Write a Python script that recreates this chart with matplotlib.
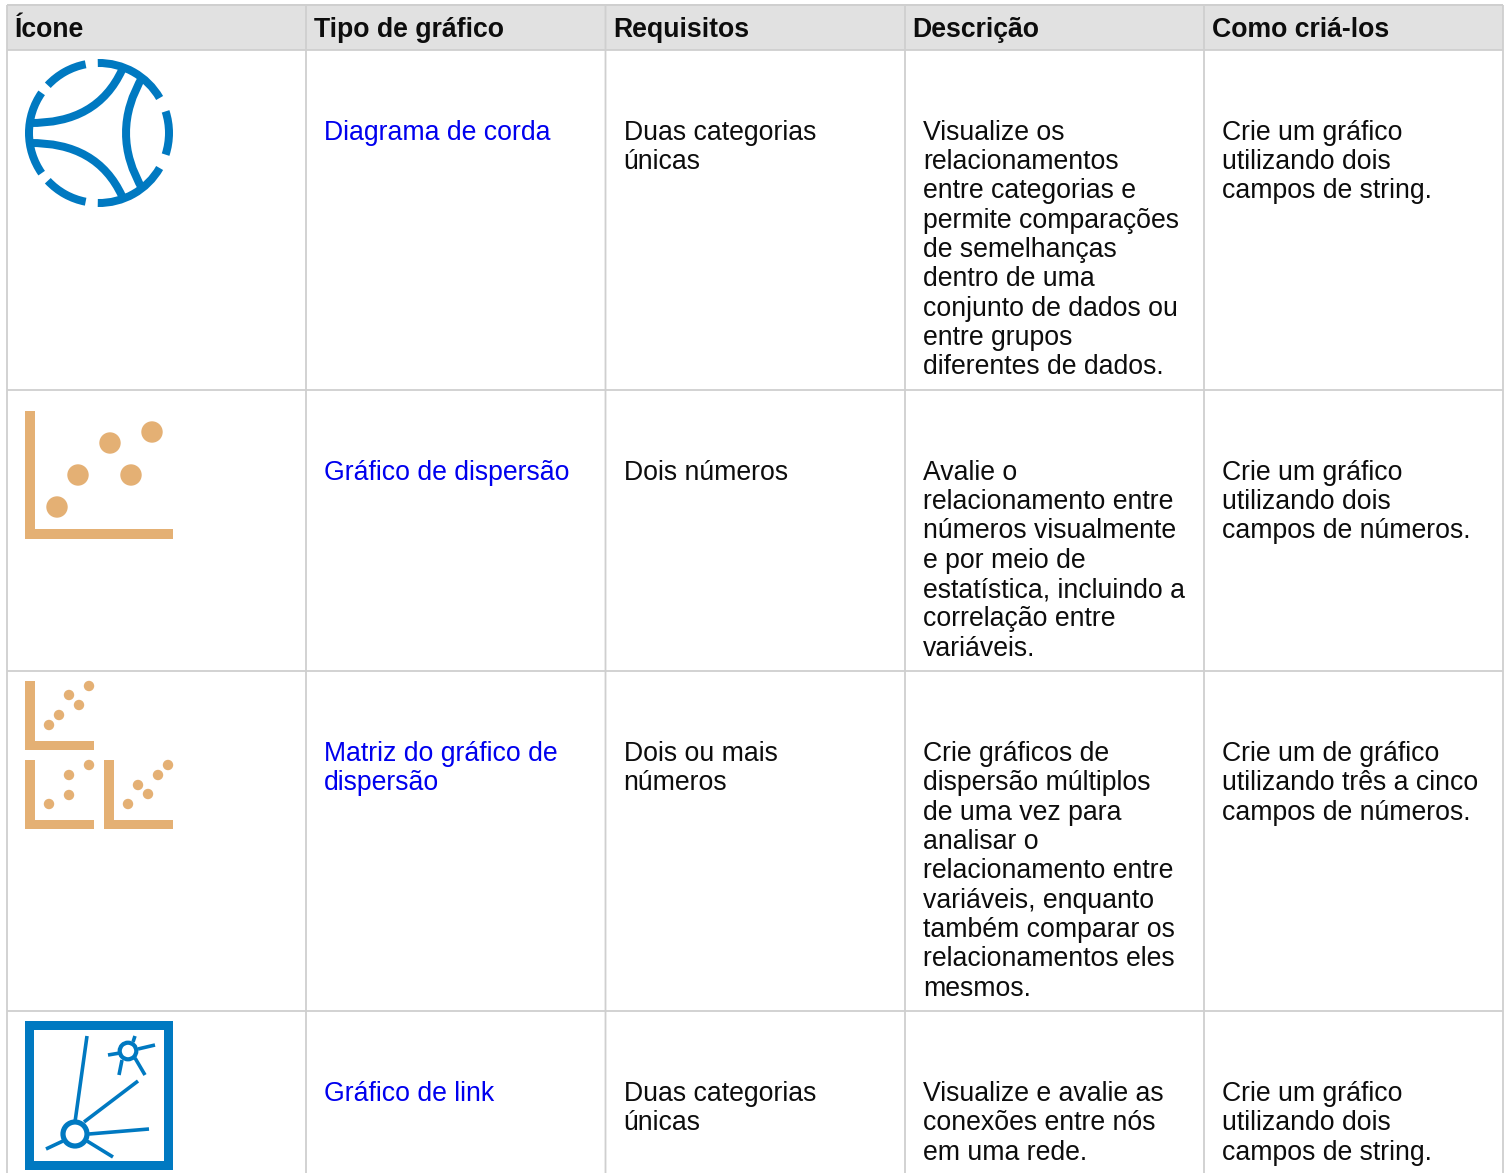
import matplotlib
matplotlib.use("Agg")
import matplotlib.pyplot as plt
from matplotlib.patches import Circle, PathPatch, Rectangle, Wedge
from matplotlib.path import Path

plt.rcParams['font.family'] = ['Liberation Sans', 'DejaVu Sans']

# table content
headers = ["Ícone", "Tipo de gráfico", "Requisitos", "Descrição", "Como criá-los"]
chart_types = [
    ["Diagrama de corda"],
    ["Gráfico de dispersão"],
    ["Matriz do gráfico de", "dispersão"],
    ["Gráfico de link"],
]
requirements = [
    ["Duas categorias", "únicas"],
    ["Dois números"],
    ["Dois ou mais", "números"],
    ["Duas categorias", "únicas"],
]
descriptions = [
    ["Visualize os", "relacionamentos", "entre categorias e", "permite comparações",
     "de semelhanças", "dentro de uma", "conjunto de dados ou", "entre grupos",
     "diferentes de dados."],
    ["Avalie o", "relacionamento entre", "números visualmente", "e por meio de",
     "estatística, incluindo a", "correlação entre", "variáveis."],
    ["Crie gráficos de", "dispersão múltiplos", "de uma vez para", "analisar o",
     "relacionamento entre", "variáveis, enquanto", "também comparar os",
     "relacionamentos eles", "mesmos."],
    ["Visualize e avalie as", "conexões entre nós", "em uma rede."],
]
how_to = [
    ["Crie um gráfico", "utilizando dois", "campos de string."],
    ["Crie um gráfico", "utilizando dois", "campos de números."],
    ["Crie um de gráfico", "utilizando três a cinco", "campos de números."],
    ["Crie um gráfico", "utilizando dois", "campos de string."],
]

# table grid, in pixels
col_edges = [7, 306, 605.5, 905, 1204, 1503]
header_x = [14.5, 313.5, 613, 912.5, 1211.5]
row_edges = [50, 390, 671, 1011]
first_baselines = [139.7, 479.7, 761.0, 1101]

# icon data
chord_arcs = [(-91, -30), (-18, 18), (30, 91), (101, 137), (145, 215), (223, 259)]
scatter_dots_x = [57, 78, 110, 131, 152]
scatter_dots_y = [507, 475, 443, 475, 432]
matrix_dots_x = [49, 59, 69, 79, 89, 49, 69, 69, 89, 128, 148, 138, 158, 168]
matrix_dots_y = [725, 715, 695, 705, 686, 804, 795, 775, 765, 804, 794, 785, 775, 765]

BLUE = "#0079c1"
TAN = "#e4b074"
LINK = "#0000ee"
GRID = "#cfcfcf"
TEXT = "#0d0d0d"
LINE_H = 29.33
FONT = 19.2


def px(n):
    # pixels to points
    return n * 72 / 100


def draw_l(ax, x0, y0, x1, y1, t):
    ax.add_patch(Rectangle((x0, y0), t, y1 - y0, fc=TAN, ec="none"))
    ax.add_patch(Rectangle((x0, y1 - t), x1 - x0, t, fc=TAN, ec="none"))


def draw_chord(ax):
    # axes are y-down, so angles run clockwise on screen
    for a, b in chord_arcs:
        ax.add_patch(Wedge((99, 133), 74, a, b, width=8, fc=BLUE, ec="none"))
    curves = [
        [(29, 123), (97, 124), (122, 70)],
        [(29, 143), (97, 142), (122, 196)],
        [(143, 76), (109, 133), (143, 190)],
    ]
    codes = [Path.MOVETO, Path.CURVE3, Path.CURVE3]
    for c in curves:
        ax.add_patch(PathPatch(Path(c, codes), fc="none", ec=BLUE, lw=px(8), capstyle="butt"))


def draw_link(ax):
    ax.add_patch(Rectangle((29.5, 1025.5), 139, 140, fc="white", ec=BLUE, lw=px(9),
                           joinstyle="miter", snap=False))
    lines = [
        ((87, 1036), (75, 1122)), ((138, 1081), (84, 1122)), ((149, 1129), (89, 1134)),
        ((113, 1157), (87, 1141)), ((46, 1149), (63, 1141)),
        ((155, 1045), (138, 1049)), ((108, 1055), (120, 1053)), ((135, 1036), (133, 1042)),
        ((119, 1075), (122, 1060)), ((145, 1075), (135, 1058)),
    ]
    for a, b in lines:
        ax.plot([a[0], b[0]], [a[1], b[1]], color=BLUE, lw=px(3.6), solid_capstyle="butt")
    ax.add_patch(Circle((75, 1134), 12, fc="white", ec=BLUE, lw=px(5.2)))
    ax.add_patch(Circle((128, 1051), 8.3, fc="white", ec=BLUE, lw=px(4.2)))


fig = plt.figure(figsize=(15.09, 11.73), dpi=100)
ax = fig.add_axes([0, 0, 1, 1])
ax.set_xlim(0, 1509)
ax.set_ylim(1173, 0)
ax.axis("off")

# header band and grid
ax.add_patch(Rectangle((col_edges[0], 5), col_edges[-1] - col_edges[0], 45, fc="#e1e1e1", ec="none"))
for x in col_edges:
    ax.plot([x, x], [5, 1173], color=GRID, lw=px(1.8), solid_capstyle="butt", snap=False)
ax.plot([col_edges[0], col_edges[-1]], [5, 5], color=GRID, lw=px(2), solid_capstyle="butt", snap=False)
for y in row_edges:
    ax.plot([col_edges[0], col_edges[-1]], [y, y], color=GRID, lw=px(1.8), solid_capstyle="butt", snap=False)

# header text
for x, label in zip(header_x, headers):
    ax.text(x, 37, label, fontsize=FONT, fontweight="bold", color=TEXT, va="baseline", ha="left")

# body text
columns = [(chart_types, LINK), (requirements, TEXT), (descriptions, TEXT), (how_to, TEXT)]
for col, (cells, colour) in enumerate(columns):
    for row, lines in enumerate(cells):
        for i, line in enumerate(lines):
            ax.text(col_edges[col + 1] + 18, first_baselines[row] + i * LINE_H, line,
                    fontsize=FONT, color=colour, va="baseline", ha="left")

# icons
draw_chord(ax)

draw_l(ax, 25, 411, 173, 539, 10)
for x, y in zip(scatter_dots_x, scatter_dots_y):
    ax.add_patch(Circle((x, y), 10.7, fc=TAN, ec="none"))

draw_l(ax, 25, 681, 94, 750, 9.5)
draw_l(ax, 25, 760, 94, 829, 9.5)
draw_l(ax, 104, 760, 173, 829, 9.5)
for x, y in zip(matrix_dots_x, matrix_dots_y):
    ax.add_patch(Circle((x, y), 5.2, fc=TAN, ec="none"))

draw_link(ax)

fig.savefig("out.png", dpi=100, facecolor="white")
